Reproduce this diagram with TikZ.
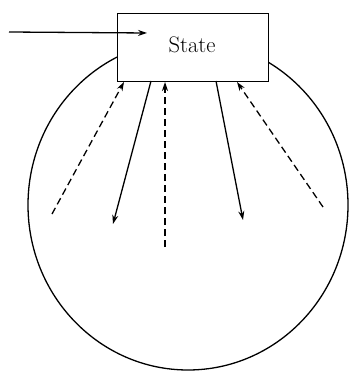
\documentclass[tikz,border=0pt]{standalone}
\usetikzlibrary{arrows.meta}
\begin{document}
\begin{tikzpicture}[x=1pt,y=-1pt,
  ln/.style={line width=1.3pt},
  arr/.style={ln,-{Stealth[length=9pt,width=6pt]}},
  darr/.style={arr,dash pattern=on 7pt off 4pt}]
\useasboundingbox (0,0) rectangle (350,371);
\draw[ln] (188,205) ellipse [x radius=160, y radius=165];
\node[draw,ln,fill=white,minimum width=151pt,minimum height=68pt,inner sep=0pt,anchor=north west] (state) at (117,13) {};
\node[font=\fontsize{22.5}{26}\selectfont] (lbl) at (192,45) {State};
\coordinate (in0) at (9,32);
\coordinate (in1) at (147,33);
\draw[arr] (in0) -- (in1);
% dashed arrows into the state
\coordinate (d1) at (52,214);
\coordinate (d1e) at (124,82);
\coordinate (d3) at (165,247);
\coordinate (d3e) at (165,82);
\coordinate (d5) at (323,207);
\coordinate (d5e) at (237,82);
\draw[darr] (d1) -- (d1e);
\draw[darr] (d3) -- (d3e);
\draw[darr] (d5) -- (d5e);
% solid arrows out of the state
\coordinate (s2) at (151,81);
\coordinate (s2e) at (113,224);
\coordinate (s4) at (216,81);
\coordinate (s4e) at (243,220);
\draw[arr] (s2) -- (s2e);
\draw[arr] (s4) -- (s4e);
\end{tikzpicture}
\end{document}
